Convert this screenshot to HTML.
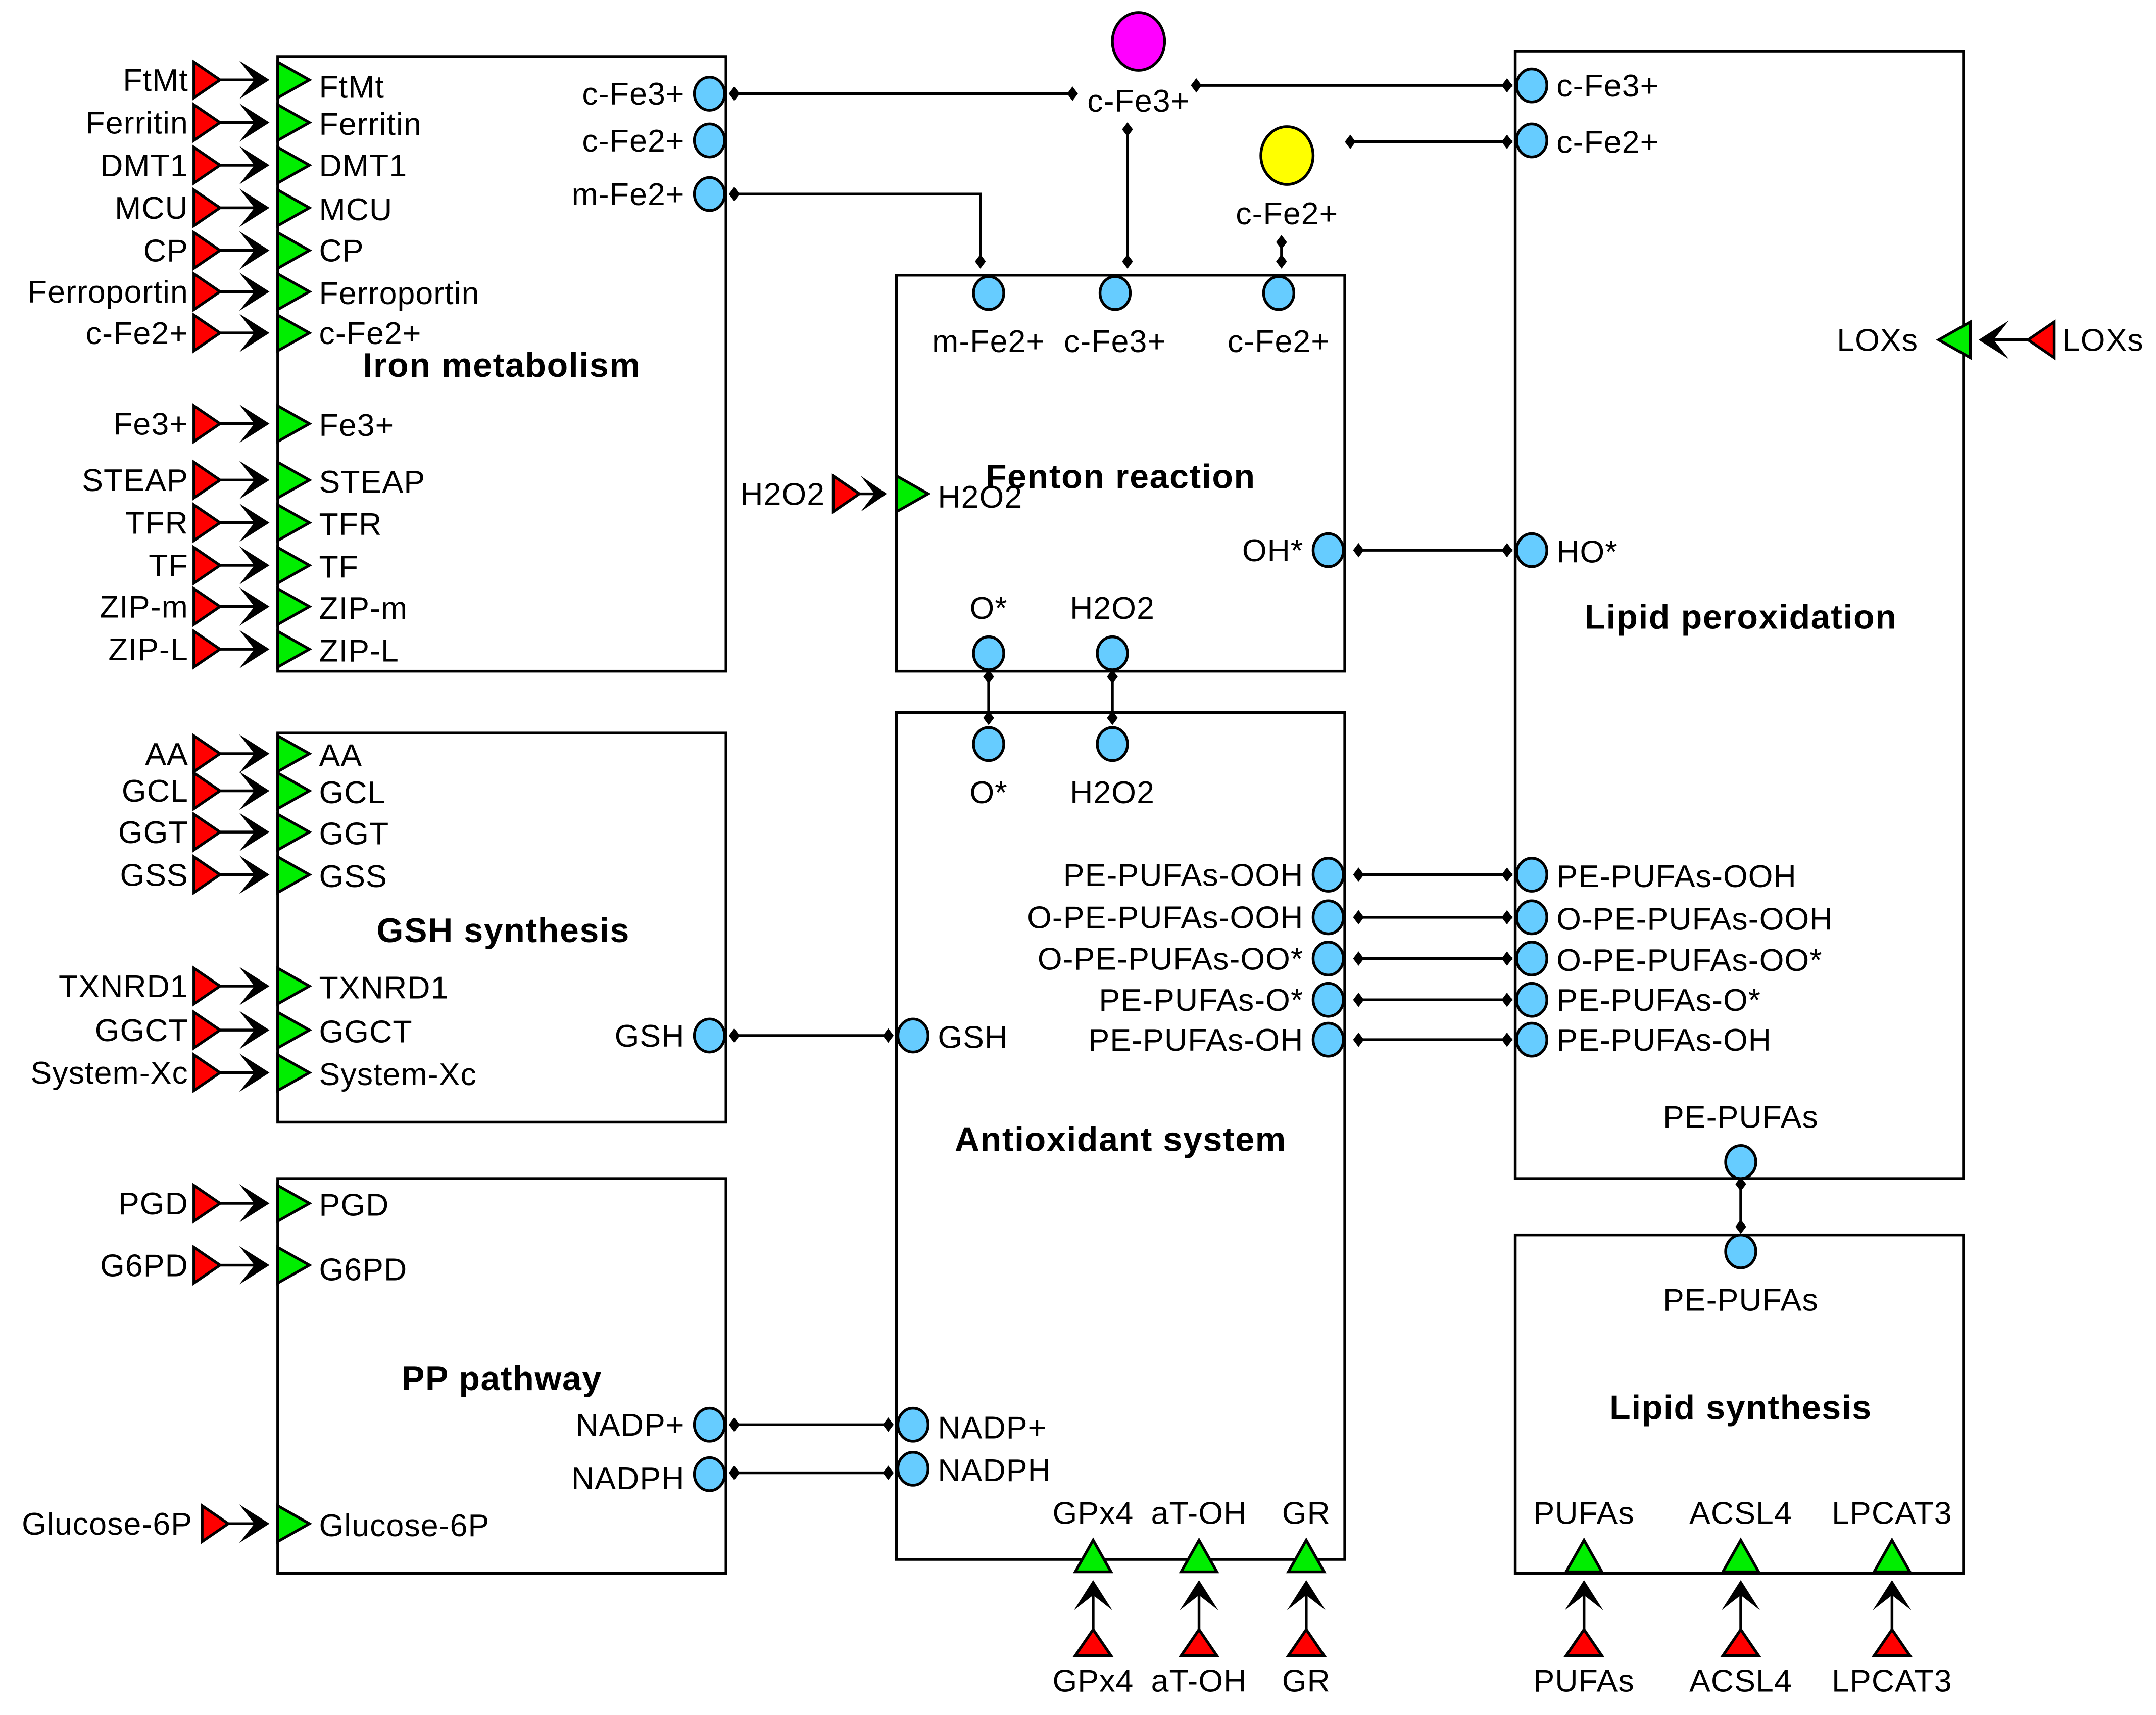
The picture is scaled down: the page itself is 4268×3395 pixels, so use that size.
<!DOCTYPE html>
<html><head><meta charset="utf-8"><style>
html,body{margin:0;padding:0;background:#fff}
svg{display:block}
text{font-family:"Liberation Sans",Arial,sans-serif;font-size:23px;letter-spacing:0.4px;fill:#000}
.b{font-weight:bold;font-size:25px;letter-spacing:0.6px}
.r{text-anchor:end}.m{text-anchor:middle}
</style></head><body>
<svg width="4268" height="3395" viewBox="0 0 1568 1247" xmlns="http://www.w3.org/2000/svg">
<defs>
<g id="in">
<path d="M0,-13 L19,0 L0,13 Z" fill="#ff0000" stroke="#000" stroke-width="2"/>
<line x1="19" y1="0" x2="52" y2="0" stroke="#000" stroke-width="2"/>
<path d="M55,0 L33,-14 L44,0 L33,14 Z" fill="#000"/>
<path d="M61,-13 L84,0 L61,13 Z" fill="#00ee00" stroke="#000" stroke-width="2"/>
</g>
<g id="d"><path d="M0,-4 L3,0 L0,4 L-3,0 Z" fill="#000" stroke="#000" stroke-width="1.5"/></g>
</defs>
<g fill="none" stroke="#000" stroke-width="2">
<rect x="202" y="41" width="326" height="447"/>
<rect x="202" y="533" width="326" height="283"/>
<rect x="202" y="857" width="326" height="287"/>
<rect x="652" y="200" width="326" height="288"/>
<rect x="652" y="518" width="326" height="616"/>
<rect x="1102" y="37" width="326" height="820"/>
<rect x="1102" y="898" width="326" height="246"/>
<line x1="534" y1="68" x2="780" y2="68"/>
<line x1="870" y1="62" x2="1100" y2="62"/>
<line x1="982" y1="103" x2="1100" y2="103"/>
<polyline points="534,141 713,141 713,192"/>
<line x1="820" y1="92" x2="820" y2="192"/>
<line x1="932" y1="174" x2="932" y2="192"/>
<line x1="988" y1="400" x2="1100" y2="400"/>
<line x1="719" y1="490" x2="719" y2="526"/>
<line x1="809" y1="490" x2="809" y2="526"/>
<line x1="988" y1="636" x2="1100" y2="636"/>
<line x1="988" y1="667" x2="1100" y2="667"/>
<line x1="988" y1="697" x2="1100" y2="697"/>
<line x1="988" y1="727" x2="1100" y2="727"/>
<line x1="988" y1="756" x2="1100" y2="756"/>
<line x1="534" y1="753" x2="646" y2="753"/>
<line x1="534" y1="1036" x2="646" y2="1036"/>
<line x1="534" y1="1071" x2="646" y2="1071"/>
<line x1="1266" y1="859" x2="1266" y2="896"/>
</g>
<g>
<use href="#d" x="534" y="68"/><use href="#d" x="780" y="68"/>
<use href="#d" x="870" y="62"/><use href="#d" x="1096" y="62"/>
<use href="#d" x="982" y="103"/><use href="#d" x="1096" y="103"/>
<use href="#d" x="534" y="141"/><use href="#d" x="713" y="190"/>
<use href="#d" x="820" y="94"/><use href="#d" x="820" y="190"/>
<use href="#d" x="932" y="176"/><use href="#d" x="932" y="190"/>
<use href="#d" x="988" y="400"/><use href="#d" x="1096" y="400"/>
<use href="#d" x="719" y="492"/><use href="#d" x="719" y="522"/>
<use href="#d" x="809" y="492"/><use href="#d" x="809" y="522"/>
<use href="#d" x="988" y="636"/><use href="#d" x="1096" y="636"/>
<use href="#d" x="988" y="667"/><use href="#d" x="1096" y="667"/>
<use href="#d" x="988" y="697"/><use href="#d" x="1096" y="697"/>
<use href="#d" x="988" y="727"/><use href="#d" x="1096" y="727"/>
<use href="#d" x="988" y="756"/><use href="#d" x="1096" y="756"/>
<use href="#d" x="534" y="753"/><use href="#d" x="646" y="753"/>
<use href="#d" x="534" y="1036"/><use href="#d" x="646" y="1036"/>
<use href="#d" x="534" y="1071"/><use href="#d" x="646" y="1071"/>
<use href="#d" x="1266" y="861"/><use href="#d" x="1266" y="892"/>
</g>
<g>
<use href="#in" x="141" y="58"/><use href="#in" x="141" y="89"/><use href="#in" x="141" y="120"/>
<use href="#in" x="141" y="151"/><use href="#in" x="141" y="182"/><use href="#in" x="141" y="212"/>
<use href="#in" x="141" y="242"/><use href="#in" x="141" y="308"/><use href="#in" x="141" y="349"/>
<use href="#in" x="141" y="380"/><use href="#in" x="141" y="411"/><use href="#in" x="141" y="441"/>
<use href="#in" x="141" y="472"/>
<use href="#in" x="141" y="548"/><use href="#in" x="141" y="575"/><use href="#in" x="141" y="605"/>
<use href="#in" x="141" y="636"/><use href="#in" x="141" y="717"/><use href="#in" x="141" y="749"/>
<use href="#in" x="141" y="780"/>
<use href="#in" x="141" y="875"/><use href="#in" x="141" y="920"/>
<g transform="translate(0,1108)" stroke="#000" stroke-width="2">
<path d="M147,-13 L166,0 L147,13 Z" fill="#ff0000"/>
<line x1="166" y1="0" x2="193" y2="0"/>
<path d="M196,0 L174,-14 L185,0 L174,14 Z" fill="#000" stroke="none"/>
<path d="M202,-13 L225,0 L202,13 Z" fill="#00ee00"/>
</g>
<g transform="translate(0,359)" stroke="#000" stroke-width="2">
<path d="M606,-13 L625,0 L606,13 Z" fill="#ff0000"/>
<line x1="625" y1="0" x2="642" y2="0"/>
<path d="M645,0 L626,-13 L636,0 L626,13 Z" fill="#000" stroke="none"/>
<path d="M652,-13 L675,0 L652,13 Z" fill="#00ee00"/>
</g>
<use href="#in" transform="translate(795,1204) rotate(-90)"/>
<use href="#in" transform="translate(872,1204) rotate(-90)"/>
<use href="#in" transform="translate(950,1204) rotate(-90)"/>
<use href="#in" transform="translate(1152,1204) rotate(-90)"/>
<use href="#in" transform="translate(1266,1204) rotate(-90)"/>
<use href="#in" transform="translate(1376,1204) rotate(-90)"/>
<use href="#in" transform="translate(1494,247) rotate(180)"/>
</g>
<g fill="#66ccff" stroke="#000" stroke-width="2">
<ellipse cx="516" cy="68" rx="11" ry="12"/><ellipse cx="516" cy="102" rx="11" ry="12"/><ellipse cx="516" cy="141" rx="11" ry="12"/>
<ellipse cx="1114" cy="62" rx="11" ry="12"/><ellipse cx="1114" cy="102" rx="11" ry="12"/>
<ellipse cx="719" cy="213" rx="11" ry="12"/><ellipse cx="811" cy="213" rx="11" ry="12"/><ellipse cx="930" cy="213" rx="11" ry="12"/>
<ellipse cx="966" cy="400" rx="11" ry="12"/><ellipse cx="1114" cy="400" rx="11" ry="12"/>
<ellipse cx="719" cy="475" rx="11" ry="12"/><ellipse cx="809" cy="475" rx="11" ry="12"/>
<ellipse cx="719" cy="541" rx="11" ry="12"/><ellipse cx="809" cy="541" rx="11" ry="12"/>
<ellipse cx="966" cy="636" rx="11" ry="12"/><ellipse cx="966" cy="667" rx="11" ry="12"/><ellipse cx="966" cy="697" rx="11" ry="12"/>
<ellipse cx="966" cy="727" rx="11" ry="12"/><ellipse cx="966" cy="756" rx="11" ry="12"/>
<ellipse cx="1114" cy="636" rx="11" ry="12"/><ellipse cx="1114" cy="667" rx="11" ry="12"/><ellipse cx="1114" cy="697" rx="11" ry="12"/>
<ellipse cx="1114" cy="727" rx="11" ry="12"/><ellipse cx="1114" cy="756" rx="11" ry="12"/>
<ellipse cx="516" cy="753" rx="11" ry="12"/><ellipse cx="664" cy="753" rx="11" ry="12"/>
<ellipse cx="516" cy="1036" rx="11" ry="12"/><ellipse cx="664" cy="1036" rx="11" ry="12"/>
<ellipse cx="516" cy="1072" rx="11" ry="12"/><ellipse cx="664" cy="1068" rx="11" ry="12"/>
<ellipse cx="1266" cy="845" rx="11" ry="12"/><ellipse cx="1266" cy="910" rx="11" ry="12"/>
</g>
<ellipse cx="828" cy="30" rx="19" ry="21" fill="#ff00ff" stroke="#000" stroke-width="2"/>
<ellipse cx="936" cy="113" rx="19" ry="21" fill="#ffff00" stroke="#000" stroke-width="2"/>
<g>
<g class="r">
<text x="137" y="66">FtMt</text><text x="137" y="97">Ferritin</text><text x="137" y="128">DMT1</text>
<text x="137" y="159">MCU</text><text x="137" y="190">CP</text><text x="137" y="220">Ferroportin</text>
<text x="137" y="250">c-Fe2+</text><text x="137" y="316">Fe3+</text><text x="137" y="357">STEAP</text>
<text x="137" y="388">TFR</text><text x="137" y="419">TF</text><text x="137" y="449">ZIP-m</text>
<text x="137" y="480">ZIP-L</text>
<text x="137" y="556">AA</text><text x="137" y="583">GCL</text><text x="137" y="613">GGT</text>
<text x="137" y="644">GSS</text><text x="137" y="725">TXNRD1</text><text x="137" y="757">GGCT</text>
<text x="137" y="788">System-Xc</text>
<text x="137" y="883">PGD</text><text x="137" y="928">G6PD</text><text x="140" y="1116">Glucose-6P</text>
<text x="600" y="367">H2O2</text>
<text x="498" y="76">c-Fe3+</text><text x="498" y="110">c-Fe2+</text><text x="498" y="149">m-Fe2+</text>
<text x="948" y="408">OH*</text>
<text x="948" y="644">PE-PUFAs-OOH</text><text x="948" y="675">O-PE-PUFAs-OOH</text><text x="948" y="705">O-PE-PUFAs-OO*</text>
<text x="948" y="735">PE-PUFAs-O*</text><text x="948" y="764">PE-PUFAs-OH</text>
<text x="498" y="761">GSH</text><text x="498" y="1044">NADP+</text><text x="498" y="1083">NADPH</text>
<text x="1395" y="255">LOXs</text>
</g>
<text x="232" y="71">FtMt</text><text x="232" y="98">Ferritin</text><text x="232" y="128">DMT1</text>
<text x="232" y="160">MCU</text><text x="232" y="190">CP</text><text x="232" y="221">Ferroportin</text>
<text x="232" y="250">c-Fe2+</text><text x="232" y="317">Fe3+</text><text x="232" y="358">STEAP</text>
<text x="232" y="389">TFR</text><text x="232" y="420">TF</text><text x="232" y="450">ZIP-m</text>
<text x="232" y="481">ZIP-L</text>
<text x="232" y="557">AA</text><text x="232" y="584">GCL</text><text x="232" y="614">GGT</text>
<text x="232" y="645">GSS</text><text x="232" y="726">TXNRD1</text><text x="232" y="758">GGCT</text>
<text x="232" y="789">System-Xc</text>
<text x="232" y="884">PGD</text><text x="232" y="931">G6PD</text><text x="232" y="1117">Glucose-6P</text>
<text x="682" y="369">H2O2</text>
<text x="1132" y="70">c-Fe3+</text><text x="1132" y="111">c-Fe2+</text><text x="1132" y="409">HO*</text>
<text x="1132" y="645">PE-PUFAs-OOH</text><text x="1132" y="676">O-PE-PUFAs-OOH</text><text x="1132" y="706">O-PE-PUFAs-OO*</text>
<text x="1132" y="735">PE-PUFAs-O*</text><text x="1132" y="764">PE-PUFAs-OH</text>
<text x="682" y="762">GSH</text><text x="682" y="1046">NADP+</text><text x="682" y="1077">NADPH</text>
<text x="1500" y="255">LOXs</text>
<g class="m">
<text x="828" y="81">c-Fe3+</text><text x="936" y="163">c-Fe2+</text>
<text x="719" y="256">m-Fe2+</text><text x="811" y="256">c-Fe3+</text><text x="930" y="256">c-Fe2+</text>
<text x="719" y="450">O*</text><text x="809" y="450">H2O2</text>
<text x="719" y="584">O*</text><text x="809" y="584">H2O2</text>
<text x="795" y="1108">GPx4</text><text x="872" y="1108">aT-OH</text><text x="950" y="1108">GR</text>
<text x="795" y="1230">GPx4</text><text x="872" y="1230">aT-OH</text><text x="950" y="1230">GR</text>
<text x="1152" y="1108">PUFAs</text><text x="1266" y="1108">ACSL4</text><text x="1376" y="1108">LPCAT3</text>
<text x="1152" y="1230">PUFAs</text><text x="1266" y="1230">ACSL4</text><text x="1376" y="1230">LPCAT3</text>
<text x="1266" y="820">PE-PUFAs</text><text x="1266" y="953">PE-PUFAs</text>
<text class="b" x="365" y="274">Iron metabolism</text>
<text class="b" x="366" y="685">GSH synthesis</text>
<text class="b" x="365" y="1011">PP pathway</text>
<text class="b" x="815" y="355">Fenton reaction</text>
<text class="b" x="815" y="837">Antioxidant system</text>
<text class="b" x="1266" y="457">Lipid peroxidation</text>
<text class="b" x="1266" y="1032">Lipid synthesis</text>
</g>
</g>
</svg>
</body></html>
